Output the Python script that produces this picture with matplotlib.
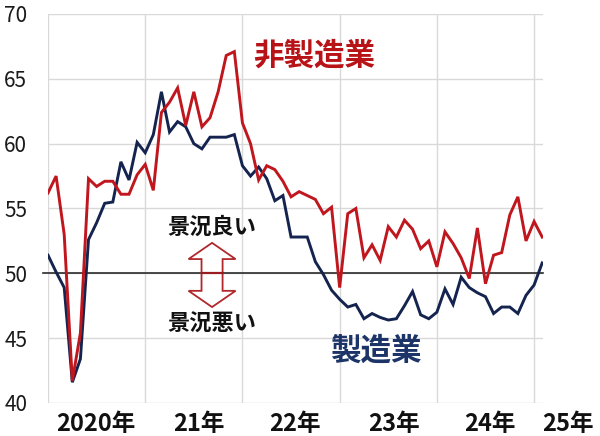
import matplotlib
matplotlib.use("Agg")
import matplotlib.pyplot as plt
from matplotlib.patches import Polygon
import matplotlib.transforms as mtrans

plt.rcParams['font.family'] = ['Noto Sans CJK JP', 'DejaVu Sans']

# Monthly index: Jan 2020 (0) ... Feb 2025 (61)
manufacturing = [51.4, 50.1, 48.9, 41.6, 43.4, 52.6, 53.9, 55.4, 55.5, 58.6, 57.2, 60.1,
                 59.3, 60.7, 64.0, 60.9, 61.7, 61.3, 60.0, 59.6, 60.5, 60.5, 60.5, 60.7,
                 58.3, 57.5, 58.2, 57.3, 55.6, 56.0, 52.8, 52.8, 52.8, 50.9, 49.9, 48.7,
                 48.0, 47.4, 47.6, 46.5, 46.9, 46.6, 46.4, 46.5, 47.5, 48.6, 46.8, 46.5,
                 47.0, 48.8, 47.6, 49.7, 48.9, 48.5, 48.2, 46.9, 47.4, 47.4, 46.9, 48.3,
                 49.1, 50.8]
non_manufacturing = [56.2, 57.5, 53.0, 41.7, 45.4, 57.3, 56.7, 57.1, 57.1, 56.1, 56.1, 57.6,
                     58.4, 56.4, 62.4, 63.2, 64.3, 61.4, 64.0, 61.3, 62.0, 64.0, 66.8, 67.1,
                     61.6, 60.0, 57.2, 58.3, 58.0, 57.1, 55.9, 56.3, 56.0, 55.7, 54.6, 55.1,
                     48.9, 54.6, 55.0, 51.2, 52.2, 51.0, 53.6, 52.8, 54.1, 53.4, 51.9, 52.5,
                     50.5, 53.2, 52.3, 51.2, 49.6, 53.5, 49.2, 51.4, 51.6, 54.5, 55.9, 52.5,
                     54.0, 52.8]
year_labels = ['2020年', '21年', '22年', '23年', '24年', '25年']
y_ticks = [40, 45, 50, 55, 60, 65, 70]
threshold = 50

RED = '#c0161e'
NAVY = '#14244f'

fig = plt.figure(figsize=(6.0, 4.36), dpi=100)
W, H = 600, 436
ax = fig.add_axes([48 / W, 1 - 403 / H, (543 - 48) / W, (403 - 14) / H])

x = list(range(len(manufacturing)))
ax.set_xlim(0, 61.1)
ax.set_ylim(40, 70)

for s in ax.spines.values():
    s.set_visible(False)

ax.set_xticks([0, 12, 24, 36, 48, 60])
ax.set_xticklabels([])
ax.set_yticks(y_ticks)
ax.set_yticklabels([str(v) for v in y_ticks], fontsize=15, color='#1a1a1a')
ax.tick_params(axis='both', length=0)
ax.tick_params(axis='y', pad=15)
ax.grid(True, color='#d9d9d9', linewidth=1.0)
ax.set_axisbelow(True)

# threshold line
ax.axhline(threshold, xmin=-0.01, xmax=1.0, color='#2b2b2b', linewidth=1.2,
           clip_on=False, zorder=2)

ax.plot(x, manufacturing, color=NAVY, linewidth=2.1, zorder=3, solid_joinstyle='miter')
ax.plot(x, non_manufacturing, color=RED, linewidth=2.1, zorder=4, solid_joinstyle='miter')

# year labels under the axis
trans = mtrans.blended_transform_factory(ax.transData, ax.transAxes)
label_x = [5.9, 18.6, 30.5, 42.7, 54.6, 64.2]
for lx, lab in zip(label_x, year_labels):
    ax.text(lx, -0.053, lab, transform=trans, ha='center', va='center',
            fontsize=17, fontweight='bold', color='#111111', clip_on=False)

# series labels
ax.text(32.8, 66.8, '非製造業', ha='center', va='center', fontsize=22,
        fontweight='bold', color='#b81418')
ax.text(40.4, 44.0, '製造業', ha='center', va='center', fontsize=22,
        fontweight='bold', color='#1c3468')

# double arrow
cx = 20.25
sw, hw = 1.3, 2.9
arrow_pts = [(cx, 52.35), (cx + hw, 51.1), (cx + sw, 51.1), (cx + sw, 48.65),
             (cx + hw, 48.65), (cx, 47.4), (cx - hw, 48.65), (cx - sw, 48.65),
             (cx - sw, 51.1), (cx - hw, 51.1)]
ax.add_patch(Polygon(arrow_pts, closed=True, facecolor='white', edgecolor='#b0282c',
                     linewidth=1.3, zorder=5))
ax.plot([cx - sw, cx + sw], [threshold, threshold], color='#9a1c20', linewidth=1.6, zorder=6)

ax.text(cx, 53.55, '景況良い', ha='center', va='center', fontsize=16,
        fontweight='bold', color='#111111', zorder=6)
ax.text(cx, 46.1, '景況悪い', ha='center', va='center', fontsize=16,
        fontweight='bold', color='#111111', zorder=6)

fig.savefig('out.png', dpi=100)
